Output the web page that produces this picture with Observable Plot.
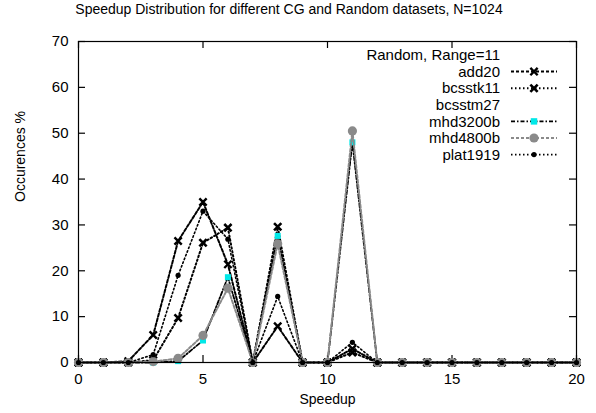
<!DOCTYPE html>
<html><head><meta charset="utf-8">
<script src="https://cdn.jsdelivr.net/npm/d3@7"></script>
<script src="https://cdn.jsdelivr.net/npm/@observablehq/plot@0.6"></script>
<style>
body{margin:0;background:#fff;font-family:"Liberation Sans",Arial,sans-serif}
#wrap{position:relative;width:596px;height:413px;overflow:hidden}
#title{height:22px;line-height:18px;font-size:14px;text-align:center;width:578px;color:#000}
#legend{position:absolute;left:0;top:0;pointer-events:none}
</style></head><body>
<div id="wrap"><div id="title"></div><div id="chart"></div><svg id="legend" width="596" height="413"></svg></div>
<script>
const titleText = "Speedup Distribution for different CG and Random datasets, N=1024";
const xLabel = "Speedup";
const yLabel = "Occurences %";
const legendTitle = "Random, Range=11";
const xTicks = [0, 5, 10, 15, 20];
const yTicks = [0, 10, 20, 30, 40, 50, 60, 70];
const speedup = [0,1,2,3,4,5,6,7,8,9,10,11,12,13,14,15,16,17,18,19,20];
const add20    = [0,0,0.3,6,26.5,35,21.4,0,7.9,0,0,3,0,0,0,0,0,0,0,0,0];
const bcsstk11 = [0,0,0,0.5,9.7,26.1,29.4,0,29.6,0,0,2.2,0,0,0,0,0,0,0,0,0];
const bcsstm27 = [];
const mhd3200b = [0,0,0,0,0.3,4.8,18.6,0,27.6,0,0,48,0,0,0,0,0,0,0,0,0];
const mhd4800b = [0,0,0,0.2,0.9,5.9,16.2,0,25.9,0,0,50.5,0,0,0,0,0,0,0,0,0];
const plat1919 = [0,0,0,1.7,19,33,26.9,0,14.4,0,0,4.4,0,0,0,0,0,0,0,0,0];

const seriesNames = ["add20","bcsstk11","bcsstm27","mhd3200b","mhd4800b","plat1919"];
const seriesValues = [add20, bcsstk11, bcsstm27, mhd3200b, mhd4800b, plat1919];
const styles = {
  add20:    {stroke:"#000", dash:"3,2", width:2, symbol:"times", fill:"none", mstroke:"#000", r:3.4, msw:2.4},
  bcsstk11: {stroke:"#000", dash:"1.5,2.5", width:2, symbol:"times", fill:"none", mstroke:"#000", r:3.4, msw:2.6},
  bcsstm27: null,
  mhd3200b: {stroke:"#000", dash:"4,2,1.5,2", width:1.8, symbol:"square", fill:"#00e8e8", mstroke:"none", r:3.4, msw:0},
  mhd4800b: {stroke:"#8a8a8a", dash:"3,2", width:2, symbol:"circle", fill:"#8a8a8a", mstroke:"none", r:4.6, msw:0},
  plat1919: {stroke:"#000", dash:"1.5,2.5", width:1.6, symbol:"circle", fill:"#000", mstroke:"none", r:2.6, msw:0}
};

document.getElementById("title").textContent = titleText;

const marks = [];
seriesNames.forEach((name, i) => {
  const st = styles[name];
  const vals = seriesValues[i];
  if (!st || vals.length === 0) return;
  const data = vals.map((v, j) => ({x: speedup[j], y: v}));
  marks.push(Plot.line(data, {x:"x", y:"y", stroke: st.stroke, strokeWidth: st.width, strokeDasharray: st.dash}));
  marks.push(Plot.dot(data, {x:"x", y:"y", symbol: st.symbol, r: st.r, fill: st.fill, stroke: st.mstroke, strokeWidth: st.msw}));
});

const W = 596, H = 391, mT = 19, mB = 51, mL = 78, mR = 20, T = 7;
const fw = W - mL - mR, fh = H - mT - mB;
const xDom = [0, 20], yDom = [0, 70];
const tx = T * (xDom[1] - xDom[0]) / fw;  // tick length in x units
const ty = T * (yDom[1] - yDom[0]) / fh;  // tick length in y units
const chart = Plot.plot({
  width: W, height: H,
  marginTop: mT, marginBottom: mB, marginLeft: mL, marginRight: mR,
  style: {fontFamily: '"Liberation Sans", Arial, sans-serif', fontSize: "15px", color: "#000", background: "#fff"},
  x: {domain: xDom, ticks: xTicks},
  y: {domain: yDom, ticks: yTicks},
  marks: [
    Plot.ruleX(xTicks, {x: d => d, y1: yDom[0], y2: yDom[0] + ty, stroke: "#000", strokeWidth: 1.2}),
    Plot.ruleX(xTicks, {x: d => d, y1: yDom[1], y2: yDom[1] - ty, stroke: "#000", strokeWidth: 1.2}),
    Plot.ruleY(yTicks, {y: d => d, x1: xDom[0], x2: xDom[0] + tx, stroke: "#000", strokeWidth: 1.2}),
    Plot.ruleY(yTicks, {y: d => d, x1: xDom[1], x2: xDom[1] - tx, stroke: "#000", strokeWidth: 1.2}),
    Plot.axisX(xTicks, {anchor: "bottom", tickSize: 0, tickPadding: 11, fontSize: 15, label: null}),
    Plot.axisY(yTicks, {anchor: "left", tickSize: 0, tickPadding: 10, fontSize: 15, label: null}),
    ...marks,
    Plot.frame({stroke: "#000", strokeWidth: 1.2}),
    Plot.text([xLabel], {frameAnchor: "bottom", dy: 41, fontSize: 14, text: d => d}),
    Plot.text([yLabel], {frameAnchor: "left", dx: -58, rotate: -90, fontSize: 14, text: d => d})
  ]
});
document.getElementById("chart").appendChild(chart);

// legend (gnuplot-style key, top right inside frame)
const lg = d3.select("#legend");
const rowH = 16.6, top0 = 55, textX = 500, l1 = 511, l2 = 557, mx = 534;
lg.append("text").attr("x", textX).attr("y", top0).attr("dy", "0.35em")
  .attr("text-anchor", "end").attr("font-size", 15).text(legendTitle);
const symMap = {times: d3.symbolTimes, square: d3.symbolSquare, circle: d3.symbolCircle};
seriesNames.forEach((name, i) => {
  const y = top0 + rowH * (i + 1);
  lg.append("text").attr("x", textX).attr("y", y).attr("dy", "0.35em")
    .attr("text-anchor", "end").attr("font-size", 15).text(name);
  const st = styles[name];
  if (!st) return;
  lg.append("line").attr("x1", l1).attr("x2", l2).attr("y1", y).attr("y2", y)
    .attr("stroke", st.stroke).attr("stroke-width", st.width).attr("stroke-dasharray", st.dash);
  const size = st.symbol === "square" ? (st.r*2)*(st.r*2)*0.9 : st.r * st.r * Math.PI;
  lg.append("path").attr("transform", `translate(${mx},${y})`)
    .attr("d", d3.symbol(symMap[st.symbol], size)())
    .attr("fill", st.fill).attr("stroke", st.mstroke).attr("stroke-width", st.msw);
});
</script>
</body></html>
